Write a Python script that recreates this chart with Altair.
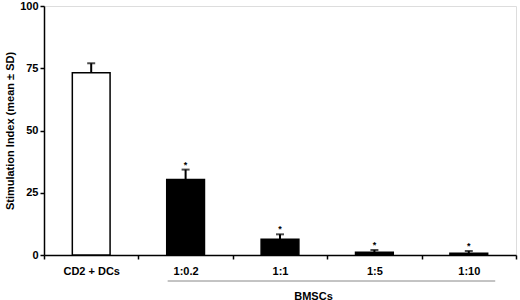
import altair as alt
import pandas as pd

categories = ["CD2 + DCs", "1:0.2", "1:1", "1:5", "1:10"]
means = [73.2, 30.3, 6.3, 1.1, 0.7]
sds = [3.8, 4.0, 2.0, 0.9, 0.9]
fills = ["white", "black", "black", "black", "black"]
stars = ["", "*", "*", "*", "*"]
y_ticks = [0, 25, 50, 75, 100]
group_label = "BMSCs"
group_from, group_to = "1:0.2", "1:10"

df = pd.DataFrame({"cat": categories, "mean": means, "sd": sds,
                   "fill": fills, "star": stars})
df["top"] = df["mean"] + df["sd"]

FONT = "Liberation Sans"

x_scale = alt.Scale(domain=categories, paddingInner=0, paddingOuter=0)
x_enc = alt.X("cat:N", scale=x_scale,
              axis=alt.Axis(title=group_label, tickBand="extent", labelAngle=0,
                            labelFont=FONT, labelFontSize=11, labelFontWeight="bold",
                            labelColor="black", labelPadding=6, tickSize=4,
                            tickColor="black", tickWidth=1.5, domainColor="black",
                            domainWidth=1.5, titleFont=FONT, titleFontSize=11,
                            titleFontWeight="bold", titleColor="black",
                            titlePadding=14, titleX=269))
y_scale = alt.Scale(domain=[0, 100], nice=False)
y_axis = alt.Axis(title="Stimulation Index (mean ± SD)", values=y_ticks, grid=False,
                  labelFont=FONT, labelFontSize=11, labelFontWeight="bold",
                  labelColor="black", tickSize=4, tickColor="black", tickWidth=1.5,
                  domainColor="black", domainWidth=1.5, labelPadding=2,
                  titleFont=FONT, titleFontSize=11, titleFontWeight="bold",
                  titleColor="black", titlePadding=4)

base = alt.Chart(df)

bars = base.mark_bar(width=alt.RelativeBandSize(0.4), stroke="black",
                     strokeWidth=1.5).encode(
    x=x_enc,
    y=alt.Y("mean:Q", scale=y_scale, axis=y_axis),
    fill=alt.Fill("fill:N", scale=None),
)

err = base.mark_rule(color="black", strokeWidth=2).encode(
    x=alt.X("cat:N", scale=x_scale),
    y="mean:Q", y2="top:Q",
)
caps = base.mark_tick(color="black", orient="horizontal", size=8,
                      thickness=2).encode(
    x=alt.X("cat:N", scale=x_scale),
    y="top:Q",
)
star_text = base.mark_text(font=FONT, fontSize=9, fontWeight="bold", dy=-5,
                           color="black").encode(
    x=alt.X("cat:N", scale=x_scale),
    y="top:Q",
    text="star:N",
)

main = alt.layer(bars, err, caps, star_text)

# bracket under the BMSCs groups, in category-index units (band i spans [i, i+1])
bracket_df = pd.DataFrame({"start": [categories.index(group_from) + 0.31],
                           "end": [categories.index(group_to) + 0.78]})
bracket = alt.Chart(bracket_df).mark_rule(color="#888888", strokeWidth=1).encode(
    x=alt.X("start:Q", scale=alt.Scale(domain=[0, len(categories)], nice=False,
                                       zero=False), axis=None),
    x2="end:Q",
    y=alt.value(275),
)

chart = alt.layer(main, bracket).resolve_scale(x="independent").properties(
    width=472, height=249,
    autosize=alt.AutoSizeParams(type="none"),
    padding={"left": 44, "top": 6, "right": 4, "bottom": 45},
).configure_view(stroke=None).configure(background="white")

chart.save("out.html", embed_options={"renderer": "svg", "actions": False})
